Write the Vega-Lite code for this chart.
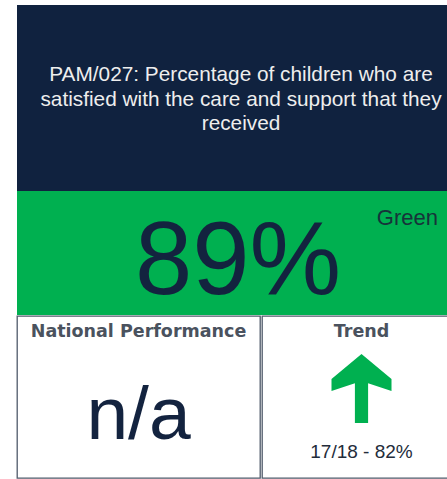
{
  "$schema": "https://vega.github.io/schema/vega-lite/v6.json",
  "padding": {"left": 16, "top": 5, "right": 0, "bottom": 2},
  "background": "white",
  "spacing": 0,
  "config": {"view": {"stroke": null}, "concat": {"spacing": 0}},
  "datasets": {
    "card": [
      {"panel": "title", "label": "PAM/027: Percentage of children who are\nsatisfied with the care and support that they\nreceived"},
      {"panel": "value", "label": "89%"},
      {"panel": "rag", "label": "Green"},
      {"panel": "national_head", "label": "National Performance"},
      {"panel": "national_value", "label": "n/a"},
      {"panel": "trend_head", "label": "Trend"},
      {"panel": "trend_arrow", "label": "up"},
      {"panel": "trend_note", "label": "17/18 - 82%"}
    ]
  },
  "vconcat": [
    {
      "width": 442, "height": 186,
      "view": {"fill": "#10223f", "stroke": null},
      "data": {"name": "card"},
      "transform": [{"filter": "datum.panel === 'title'"}],
      "mark": {"type": "text", "font": "Liberation Sans", "fontSize": 20.8, "color": "#eeeeee", "lineBreak": "\n", "lineHeight": 24.5, "align": "center", "baseline": "alphabetic", "dx": 3, "dy": -17},
      "encoding": {"text": {"field": "label", "type": "nominal"}}
    },
    {
      "width": 442, "height": 124,
      "view": {"fill": "#00b050", "stroke": null},
      "data": {"name": "card"},
      "layer": [
        {
          "transform": [{"filter": "datum.panel === 'value'"}],
          "mark": {"type": "text", "font": "Liberation Sans", "fontSize": 103, "color": "#13233f", "align": "center", "baseline": "alphabetic", "dx": 0, "dy": 41},
          "encoding": {"text": {"field": "label", "type": "nominal"}}
        },
        {
          "transform": [{"filter": "datum.panel === 'rag'"}],
          "mark": {"type": "text", "font": "Liberation Sans", "fontSize": 22, "color": "#17333a", "align": "right", "baseline": "alphabetic", "dx": 200, "dy": -28},
          "encoding": {"text": {"field": "label", "type": "nominal"}}
        }
      ]
    },
    {
      "hconcat": [
        {
          "width": 243, "height": 162,
          "view": {"fill": "white", "stroke": "#4f5a6a", "strokeWidth": 1.3},
          "data": {"name": "card"},
          "layer": [
            {
              "transform": [{"filter": "datum.panel === 'national_head'"}],
              "mark": {"type": "text", "font": "DejaVu Sans", "fontWeight": "bold", "fontSize": 17.5, "color": "#4a525e", "align": "center", "baseline": "alphabetic", "dy": -60},
              "encoding": {"text": {"field": "label", "type": "nominal"}}
            },
            {
              "transform": [{"filter": "datum.panel === 'national_value'"}],
              "mark": {"type": "text", "font": "Liberation Sans", "fontSize": 75, "color": "#13233f", "align": "center", "baseline": "alphabetic", "dy": 42},
              "encoding": {"text": {"field": "label", "type": "nominal"}}
            }
          ]
        },
        {
          "width": 199, "height": 162,
          "view": {"fill": "white", "stroke": "#4f5a6a", "strokeWidth": 1.3},
          "data": {"name": "card"},
          "layer": [
            {
              "transform": [{"filter": "datum.panel === 'trend_head'"}],
              "mark": {"type": "text", "font": "DejaVu Sans", "fontWeight": "bold", "fontSize": 17.5, "color": "#4a525e", "align": "center", "baseline": "alphabetic", "dy": -60},
              "encoding": {"text": {"field": "label", "type": "nominal"}}
            },
            {
              "transform": [{"filter": "datum.panel === 'trend_arrow'"}],
              "mark": {"type": "point", "filled": true, "opacity": 1, "color": "#00b050", "size": 3600, "shape": "M0,-1.43 L1,-0.6 L1,-0.2 L0.22,-0.46 L0.22,0.87 L-0.22,0.87 L-0.22,-0.46 L-1,-0.2 L-1,-0.6 Z"},
              "encoding": {}
            },
            {
              "transform": [{"filter": "datum.panel === 'trend_note'"}],
              "mark": {"type": "text", "font": "Liberation Sans", "fontSize": 19, "color": "#232c3a", "align": "center", "baseline": "alphabetic", "dy": 61},
              "encoding": {"text": {"field": "label", "type": "nominal"}}
            }
          ]
        }
      ]
    }
  ]
}
